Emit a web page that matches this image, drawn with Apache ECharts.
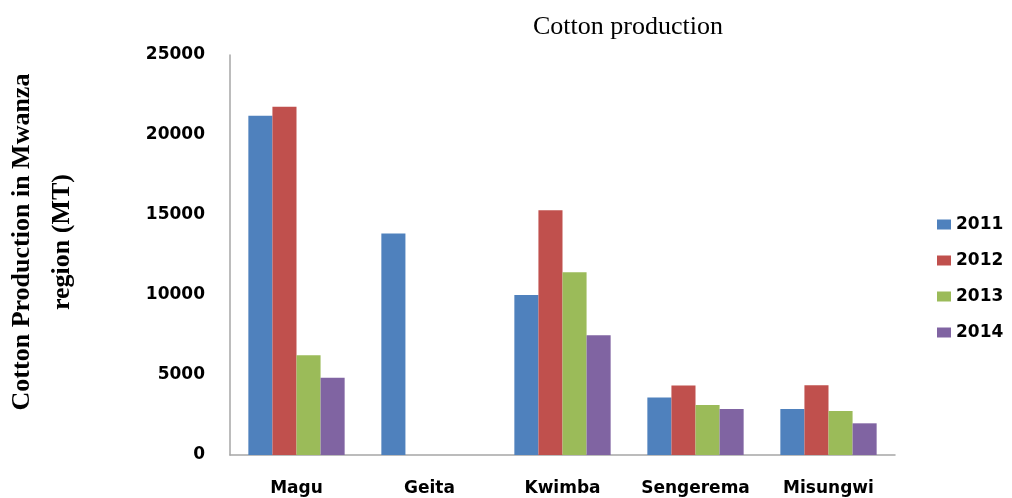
<!DOCTYPE html>
<html>
<head>
<meta charset="utf-8">
<script src="https://cdn.jsdelivr.net/npm/echarts@6/dist/echarts.min.js"></script>
<style>html,body{margin:0;padding:0;background:#fff;}#c{width:1012px;height:498px;}</style>
</head>
<body>
<div id="c"></div>
<script>
const categories = ['Magu', 'Geita', 'Kwimba', 'Sengerema', 'Misungwi'];
const years = ['2011', '2012', '2013', '2014'];
const v2011 = [21200, 13850, 10000, 3600, 2875];
const v2012 = [21770, null, 15300, 4350, 4360];
const v2013 = [6230, null, 11420, 3125, 2750];
const v2014 = [4830, null, 7480, 2875, 1980];
const yTicks = [0, 5000, 10000, 15000, 20000, 25000];
const colors = ['#4F81BD', '#C0504D', '#9BBB59', '#8064A2'];
const seriesValues = [v2011, v2012, v2013, v2014];

const chart = echarts.init(document.getElementById('c'));
chart.setOption({
  animation: false,
  backgroundColor: '#ffffff',
  title: {
    text: 'Cotton production',
    left: 623, top: 9, textAlign: 'center',
    textStyle: { fontFamily: 'Liberation Serif', fontWeight: 'normal', fontSize: 26, color: '#000' }
  },
  legend: {
    orient: 'vertical', left: 932, top: 211,
    itemWidth: 14, itemHeight: 10, itemGap: 19,
    icon: 'rect',
    textStyle: { fontFamily: 'DejaVu Sans', fontWeight: 'bold', fontSize: 17, color: '#000' },
    data: years
  },
  grid: { left: 230, right: 117, top: 55, bottom: 43, containLabel: false },
  xAxis: {
    type: 'category', data: categories,
    axisLine: { lineStyle: { color: '#a6a6a6', width: 1.5 } },
    axisTick: { show: false },
    axisLabel: { interval: 0, fontFamily: 'DejaVu Sans', fontWeight: 'bold', fontSize: 17, color: '#000', margin: 25 }
  },
  yAxis: {
    type: 'value', min: yTicks[0], max: yTicks[yTicks.length - 1], interval: 5000,
    axisLine: { show: true, lineStyle: { color: '#a6a6a6', width: 1.5 } },
    axisTick: { show: false },
    splitLine: { show: false },
    axisLabel: { formatter: v => String(v), padding: [7, 0, 0, 0], fontFamily: 'DejaVu Sans', fontWeight: 'bold', fontSize: 17, color: '#000', margin: 25 }
  },
  graphic: [{
    type: 'text', x: 42, y: 242, rotation: Math.PI / 2,
    style: {
      text: 'Cotton Production in Mwanza\nregion (MT)',
      font: 'bold 26px "Liberation Serif"',
      fill: '#000', align: 'center', verticalAlign: 'middle', lineHeight: 40
    }
  }],
  series: years.map((y, i) => ({
    name: y, type: 'bar', data: seriesValues[i],
    barGap: '0%', barCategoryGap: '27.6%',
    itemStyle: { color: colors[i] }
  }))
});
</script>
</body>
</html>
